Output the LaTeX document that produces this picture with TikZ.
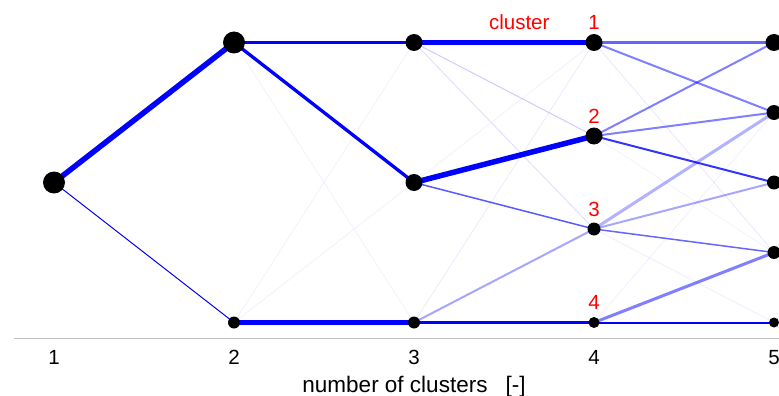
\documentclass[tikz,border=0pt]{standalone}
\usepackage{fontspec}
\setmainfont{Liberation Sans}
\pgfdeclarelayer{edges}
\pgfsetlayers{edges,main}
\tikzset{
  dot/.style={circle, fill=black, inner sep=0pt, minimum size=#1},
  flow/.style 2 args={draw=blue, line width=#1pt, draw opacity=#2},
  tick/.style={font=\fontsize{20.5}{24}\selectfont, anchor=base},
  tag/.style={font=\fontsize{20.5}{24}\selectfont, text=red, anchor=base},
}
\begin{document}
\begin{tikzpicture}[x=1pt, y=-1pt]
\useasboundingbox (0,0) rectangle (779,396);
\clip (0,0) rectangle (779,396);

% axis
\draw[draw=black!25, line width=1pt] (14,338) -- (779,338);
\foreach \k/\xx in {1/54, 2/234, 3/414, 4/594, 5/774}
  \node[tick] (t\k) at (\xx,364.5) {\k};
\node[font=\fontsize{22.5}{26}\selectfont, anchor=base] (title) at (414,392)
  {number of clusters\hspace{18pt}[-]};

% cluster centres per level
\node[dot=22] (n1)  at (54,182.5) {};
\node[dot=22] (n2a) at (234,42.5) {};
\node[dot=12] (n2b) at (234,322.5) {};
\node[dot=17] (n3a) at (414,42.5) {};
\node[dot=17] (n3b) at (414,182.5) {};
\node[dot=12] (n3c) at (414,322.5) {};
\node[dot=17] (n4a) at (594,42.5) {};
\node[dot=17] (n4b) at (594,136) {};
\node[dot=13] (n4c) at (594,229) {};
\node[dot=11] (n4d) at (594,322.5) {};
\node[dot=17] (n5a) at (774,42.5) {};
\node[dot=15] (n5b) at (774,112.5) {};
\node[dot=14] (n5c) at (774,182.5) {};
\node[dot=13] (n5d) at (774,252.5) {};
\node[dot=10] (n5e) at (774,322.5) {};

% cluster labels
\node[tag, anchor=base east] (lc) at (553,29.5) {cluster};
\node[tag] (l1) at (594,29.5) {1};
\node[tag] (l2) at (594,123) {2};
\node[tag] (l3) at (594,216) {3};
\node[tag] (l4) at (594,309.5) {4};

% transitions between levels
\begin{pgfonlayer}{edges}
\foreach \a/\b/\w/\o in {
  n1/n2a/5.5/1, n1/n2b/1/1,
  n2a/n3a/3.3/1, n2a/n3b/3.3/1, n2a/n3c/0.8/0.06,
  n2b/n3a/0.8/0.06, n2b/n3b/0.8/0.06, n2b/n3c/4.5/1,
  n3a/n4a/5/1, n3a/n4b/1/0.2, n3a/n4c/1/0.12,
  n3b/n4a/0.8/0.06, n3b/n4b/5.5/1, n3b/n4c/1.5/0.65,
  n3c/n4a/0.8/0.08, n3c/n4c/2/0.35, n3c/n4d/3/1,
  n4a/n5a/3.5/0.6, n4a/n5b/2/0.5, n4a/n5d/1/0.08,
  n4b/n5a/2/0.5, n4b/n5b/2/0.5, n4b/n5c/2/0.8, n4b/n5d/0.8/0.05,
  n4c/n5b/3/0.3, n4c/n5c/2/0.35, n4c/n5d/1.5/0.6, n4c/n5e/1/0.06,
  n4d/n5b/0.8/0.06, n4d/n5d/3/0.5, n4d/n5e/2/1}
  \draw[flow={\w}{\o}] (\a.center) -- (\b.center);
\end{pgfonlayer}
\end{tikzpicture}
\end{document}
